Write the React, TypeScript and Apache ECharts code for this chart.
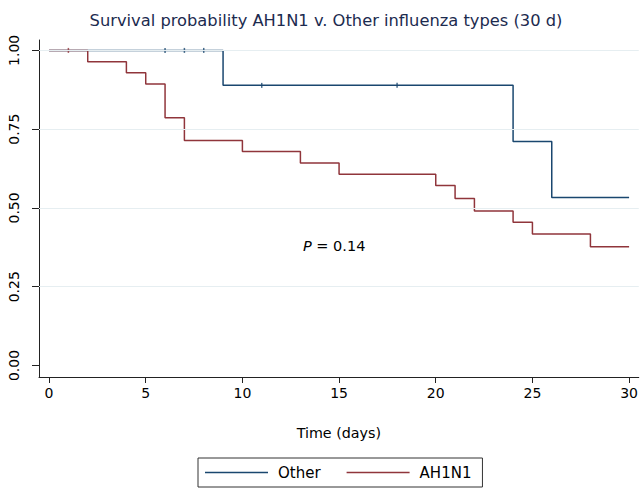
import React, { useEffect, useRef } from "react";
import * as echarts from "echarts";

const FONT = "DejaVu Sans";

const otherTimes = [0, 9, 24, 26, 30];
const otherSurv = [1.0, 0.889, 0.711, 0.533, 0.533];
const otherCensorTimes = [6, 7, 8, 11, 18];
const otherCensorSurv = [1.0, 1.0, 1.0, 0.889, 0.889];

const ah1n1Times = [0, 2, 4, 5, 6, 7, 10, 13, 15, 20, 21, 22, 24, 25, 28, 30];
const ah1n1Surv = [1.0, 0.964, 0.929, 0.893, 0.786, 0.714, 0.679, 0.643, 0.607, 0.571, 0.53, 0.49, 0.455, 0.417, 0.377, 0.377];
const ah1n1CensorTimes = [1];
const ah1n1CensorSurv = [1.0];

const xTicks = [0, 5, 10, 15, 20, 25, 30];
const yTicks = [0, 0.25, 0.5, 0.75, 1.0];
const gridValues = [0.25, 0.5, 0.75, 1.0];

const TITLE = "Survival probability AH1N1 v. Other influenza types (30 d)";

const BLUE = "#1a476f";
const RED = "#90353b";
const LINE_ICON = "path://M0,0 L63,0 L63,1.5 L0,1.5 Z";

const pair = (xs: number[], ys: number[]) => xs.map((x, i) => [x, ys[i]]);

export default function App() {
  const ref = useRef<HTMLDivElement>(null);
  useEffect(() => {
    if (!ref.current) return;
    const chart = echarts.init(ref.current, null, { renderer: "svg" });
    chart.setOption({
      animation: false,
      backgroundColor: "#ffffff",
      legend: {
        data: [
          { name: "Other", icon: LINE_ICON, itemStyle: { color: BLUE } },
          { name: "AH1N1", icon: LINE_ICON, itemStyle: { color: RED } },
        ],
        left: 198,
        top: 458,
        orient: "horizontal",
        itemWidth: 63,
        itemHeight: 14,
        itemGap: 26,
        symbolKeepAspect: true,
        padding: [7, 11, 7, 7],
        borderColor: "#333",
        borderWidth: 1,
        selectedMode: false,
        textStyle: { fontFamily: FONT, fontSize: 15, color: "#000", padding: [0, 0, 0, 5] },
      },
      grid: { left: 39, right: 0, top: 40, bottom: 113, containLabel: false },
      xAxis: {
        type: "value",
        min: -0.52,
        max: 30.5,
        name: "Time (days)",
        nameLocation: "middle",
        nameGap: 49,
        nameTextStyle: { fontFamily: FONT, fontSize: 14.3, color: "#000" },
        axisLine: { show: true, onZero: false, lineStyle: { color: "#222", width: 1 } },
        axisTick: { show: true, length: 6, customValues: xTicks, lineStyle: { color: "#222" } },
        axisLabel: {
          customValues: xTicks,
          margin: 9,
          fontFamily: FONT,
          fontSize: 14,
          color: "#000",
        },
        splitLine: { show: false },
      },
      yAxis: {
        type: "value",
        min: -0.0365,
        max: 1.033,
        axisLine: { show: true, onZero: false, lineStyle: { color: "#222", width: 1 } },
        axisTick: { show: true, length: 7, customValues: yTicks, lineStyle: { color: "#222" } },
        axisLabel: {
          customValues: yTicks,
          rotate: 90,
          margin: 18,
          fontFamily: FONT,
          fontSize: 14,
          color: "#000",
          formatter: (v: number) => v.toFixed(2),
        },
        splitLine: { show: false },
      },
      graphic: [
        {
          type: "text",
          x: 326,
          y: 20,
          style: {
            text: TITLE,
            fontFamily: FONT,
            fontSize: 16.3,
            fill: "#1c2b4f",
            textAlign: "center",
            textVerticalAlign: "middle",
          },
        },
        {
          type: "text",
          left: 303,
          top: 238,
          style: {
            text: "{i|P} = 0.14",
            rich: {
              i: { fontFamily: FONT, fontSize: 14.5, fontStyle: "italic", fill: "#000" },
            },
            fontFamily: FONT,
            fontSize: 14.5,
            fill: "#000",
          },
        },
      ],
      series: [
        {
          name: "grid",
          type: "line",
          data: [],
          silent: true,
          markLine: {
            silent: true,
            symbol: "none",
            label: { show: false },
            lineStyle: { color: "#e6eef1", type: "solid", width: 1 },
            data: gridValues.map((v) => ({ yAxis: v })),
          },
        },
        {
          name: "Other",
          type: "line",
          step: "end",
          symbol: "none",
          color: BLUE,
          lineStyle: { color: BLUE, width: 1.5 },
          data: pair(otherTimes, otherSurv),
          z: 3,
        },
        {
          name: "AH1N1",
          type: "line",
          step: "end",
          symbol: "none",
          color: RED,
          lineStyle: { color: RED, width: 1.5 },
          data: pair(ah1n1Times, ah1n1Surv),
          z: 4,
        },
        {
          name: "Other censored",
          type: "scatter",
          symbol: "rect",
          symbolSize: [1.5, 5],
          itemStyle: { color: BLUE },
          data: pair(otherCensorTimes, otherCensorSurv),
          z: 3,
        },
        {
          name: "AH1N1 censored",
          type: "scatter",
          symbol: "rect",
          symbolSize: [1.5, 5],
          itemStyle: { color: RED },
          data: pair(ah1n1CensorTimes, ah1n1CensorSurv),
          z: 4,
        },
      ],
    });
    return () => chart.dispose();
  }, []);
  return <div ref={ref} style={{ width: 641, height: 490, position: "absolute", left: 0, top: 0 }} />;
}
